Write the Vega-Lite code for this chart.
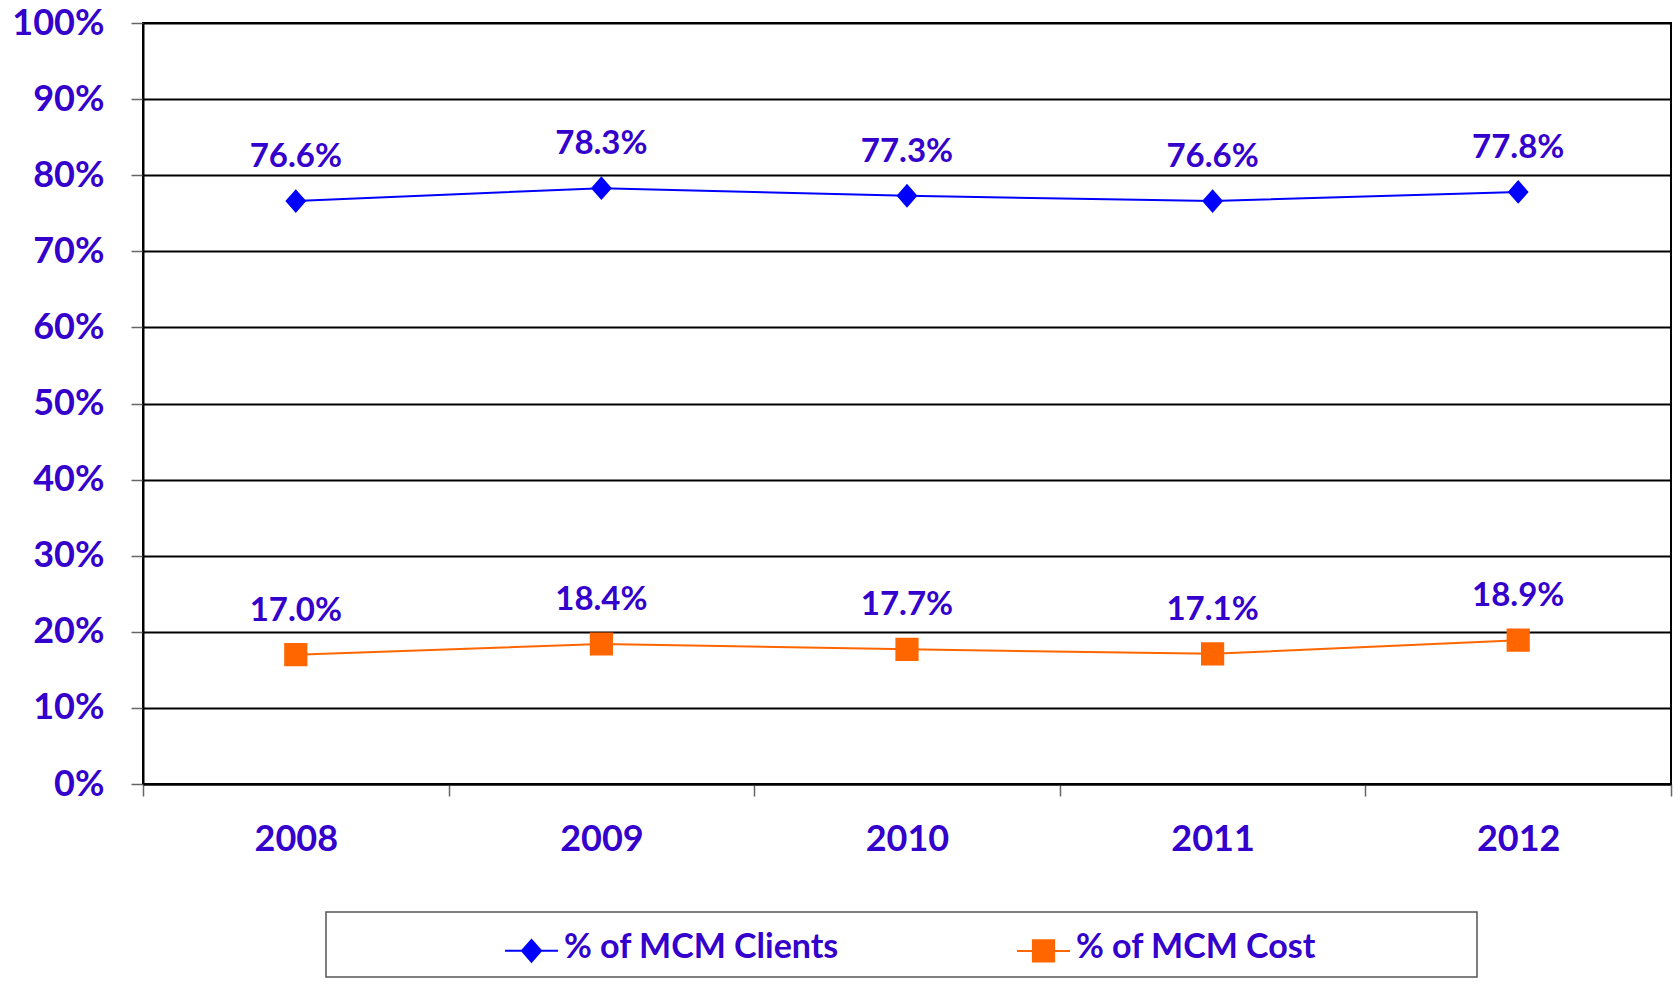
{
  "$schema": "https://vega.github.io/schema/vega-lite/v6.json",
  "autosize": {"type": "none"},
  "width": 1528,
  "height": 761,
  "padding": {"left": 143, "top": 23, "right": 9, "bottom": 203},
  "background": "white",
  "config": {
    "view": {"stroke": "black", "strokeWidth": 2},
    "font": "Lato"
  },
  "data": {
    "values": [
      {"year": "2008", "series": "% of MCM Clients", "value": 0.766},
      {"year": "2009", "series": "% of MCM Clients", "value": 0.783},
      {"year": "2010", "series": "% of MCM Clients", "value": 0.773},
      {"year": "2011", "series": "% of MCM Clients", "value": 0.766},
      {"year": "2012", "series": "% of MCM Clients", "value": 0.778},
      {"year": "2008", "series": "% of MCM Cost", "value": 0.170},
      {"year": "2009", "series": "% of MCM Cost", "value": 0.184},
      {"year": "2010", "series": "% of MCM Cost", "value": 0.177},
      {"year": "2011", "series": "% of MCM Cost", "value": 0.171},
      {"year": "2012", "series": "% of MCM Cost", "value": 0.189}
    ]
  },
  "encoding": {
    "x": {
      "field": "year",
      "type": "ordinal",
      "scale": {"type": "band", "paddingInner": 0, "paddingOuter": 0},
      "axis": {
        "title": null,
        "labelAngle": 0,
        "tickBand": "extent",
        "tickSize": 12,
        "tickColor": "#666666",
        "tickWidth": 1.5,
        "domainColor": "black",
        "domainWidth": 2,
        "grid": false,
        "labelFont": "Lato",
        "labelFontWeight": "bold",
        "labelFontSize": 36,
        "labelColor": "#3300cc",
        "labelPadding": 26
      }
    },
    "y": {
      "field": "value",
      "type": "quantitative",
      "scale": {"domain": [0, 1], "nice": false},
      "axis": {
        "title": null,
        "format": ".0%",
        "values": [0, 0.1, 0.2, 0.3, 0.4, 0.5, 0.6, 0.7, 0.8, 0.9, 1.0],
        "grid": true,
        "gridColor": "black",
        "gridWidth": 2,
        "gridOpacity": 1,
        "tickSize": 12,
        "tickColor": "#666666",
        "tickWidth": 1.5,
        "domainColor": "black",
        "domainWidth": 2,
        "labelFont": "Lato",
        "labelFontWeight": "bold",
        "labelFontSize": 36,
        "labelColor": "#3300cc",
        "labelPadding": 27
      }
    }
  },
  "layer": [
    {
      "mark": {"type": "line", "strokeWidth": 2},
      "encoding": {
        "color": {
          "field": "series",
          "type": "nominal",
          "scale": {"domain": ["% of MCM Clients", "% of MCM Cost"], "range": ["#0000ff", "#ff6600"]},
          "legend": {
            "orient": "none",
            "legendX": 183,
            "legendY": 889,
            "direction": "horizontal",
            "padding": 11,
            "strokeColor": "#555555",
            "fillColor": "white",
            "title": null,
            "symbolSize": 2809,
            "symbolStrokeWidth": 2,
            "symbolOffset": 167,
            "labelFont": "Lato",
            "labelFontWeight": "bold",
            "labelFontSize": 34,
            "labelColor": "#3300cc",
            "labelOffset": 5,
            "labelLimit": 1000,
            "columnPadding": 10,
            "encode": {
              "legend": {"update": {"strokeWidth": {"value": 1.5}}},
              "labels": {"update": {"text": {"signal": "datum.label == '% of MCM Cost' ? datum.label + '\u2800\u2800\u2800\u2800\u2800\u2800' : datum.label"}, "dy": {"value": -3}}},
              "symbols": {"update": {"stroke": {"signal": "scale('color', datum.value)"}, "strokeWidth": {"value": 2}, "opacity": {"value": 1}}}
            }
          }
        }
      }
    },
    {
      "mark": {"type": "point", "filled": true, "opacity": 1, "size": 3364},
      "encoding": {
        "color": {"field": "series", "type": "nominal", "legend": null},
        "shape": {
          "field": "series",
          "type": "nominal",
          "scale": {
            "domain": ["% of MCM Clients", "% of MCM Cost"],
            "range": ["M-1,0H1M0,-0.41L0.36,0L0,0.41L-0.36,0Z", "M-1,0H1M-0.4,-0.4H0.4V0.4H-0.4Z"]
          },
          "legend": null
        }
      }
    },
    {
      "mark": {"type": "text", "font": "Lato", "fontWeight": "bold", "fontSize": 33, "color": "#3300cc", "baseline": "middle", "dy": -44},
      "encoding": {
        "text": {"field": "value", "type": "quantitative", "format": ".1%"}
      }
    }
  ]
}
